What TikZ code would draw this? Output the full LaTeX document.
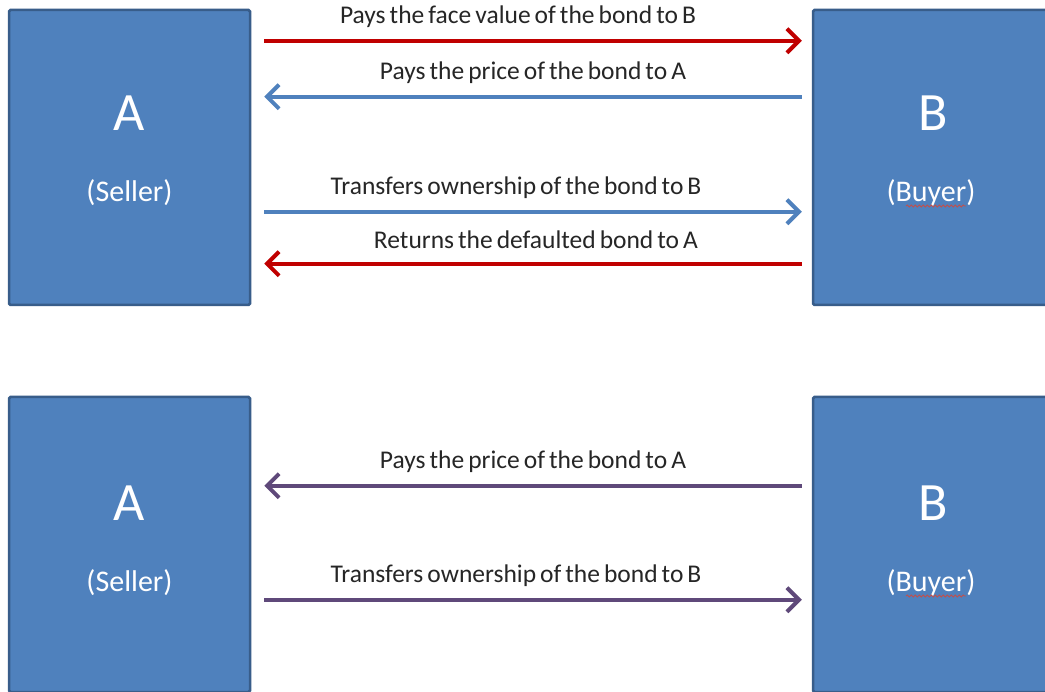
\documentclass[tikz,border=0pt]{standalone}
\usepackage{fontspec}
\setmainfont{Carlito}[WordSpace=0.7]
\usetikzlibrary{arrows.meta,decorations.pathmorphing}
\definecolor{boxfill}{HTML}{4F81BD}
\definecolor{boxline}{HTML}{385D8A}
\definecolor{arrred}{HTML}{C00000}
\definecolor{arrblue}{HTML}{4F81BD}
\definecolor{arrpurple}{HTML}{5F497A}
\definecolor{squig}{HTML}{C0504D}
\tikzset{
  party/.style={draw=boxline, line width=2.5pt, fill=boxfill, minimum width=241pt, minimum height=295pt, inner sep=0pt, rounded corners=1.5pt},
  bigletter/.style={text=white, font=\fontsize{54}{58}\selectfont},
  role/.style={text=white, font=\fontsize{30}{34}\selectfont},
  flow/.style={line width=4pt, -{Straight Barb[length=12pt,width=24pt,line width=4pt]}},
  redflow/.style={flow, draw=arrred},
  blueflow/.style={flow, draw=arrblue},
  purpleflow/.style={flow, draw=arrpurple},
  lbl/.style={midway, yshift=24pt, text=black!85, font=\fontsize{25.5}{29}\selectfont, inner sep=0pt},
  spell/.style={draw=squig, line width=0.8pt, decorate, decoration={snake, amplitude=1pt, segment length=4pt}}
}
\begin{document}
\begin{tikzpicture}[x=1pt,y=-1pt]
\useasboundingbox (0,0) rectangle (1045,692);
\clip (0,0) rectangle (1045,692);
\fill[white] (0,0) rectangle (1045,692);
% top pair
\node[party] (A1) at (129.5,157.5) {};
\node[party] (B1) at (933.5,157.5) {};
\node[bigletter] (A1l) at (129.5,113) {A};
\node[role] (A1r) at (129.5,193) {(Seller)};
\node[bigletter] (B1l) at (933.5,113) {B};
\node[role] (B1r) at (931,193) {(Buyer)};
\coordinate (B1s1) at (906,206);
\coordinate (B1s2) at (966,206);
\draw[spell] (B1s1) -- (B1s2);
% bottom pair
\node[party] (A2) at (129.5,544.5) {};
\node[party] (B2) at (933.5,544.5) {};
\node[bigletter] (A2l) at (129.5,503) {A};
\node[role] (A2r) at (129.5,583) {(Seller)};
\node[bigletter] (B2l) at (933.5,503) {B};
\node[role] (B2r) at (931,583) {(Buyer)};
\coordinate (B2s1) at (906,596);
\coordinate (B2s2) at (966,596);
\draw[spell] (B2s1) -- (B2s2);
% top arrows
\draw[redflow] ([shift={(13,32)}]A1.north east) -- ([shift={(-10,32)}]B1.north west)
  node[lbl, xshift=-15pt] {Pays the face value of the bond to B};
\draw[blueflow] ([shift={(-10,88)}]B1.north west) -- ([shift={(13,88)}]A1.north east)
  node[lbl] {Pays the price of the bond to A};
\draw[blueflow] ([shift={(13,203)}]A1.north east) -- ([shift={(-10,203)}]B1.north west)
  node[lbl, xshift=-17pt] {Transfers ownership of the bond to B};
\draw[redflow] ([shift={(-10,255)}]B1.north west) -- ([shift={(13,255)}]A1.north east)
  node[lbl, xshift=3pt] {Returns the defaulted bond to A};
% bottom arrows
\draw[purpleflow] ([shift={(-10,90)}]B2.north west) -- ([shift={(13,90)}]A2.north east)
  node[lbl] {Pays the price of the bond to A};
\draw[purpleflow] ([shift={(13,204)}]A2.north east) -- ([shift={(-10,204)}]B2.north west)
  node[lbl, xshift=-17pt] {Transfers ownership of the bond to B};
\end{tikzpicture}
\end{document}
